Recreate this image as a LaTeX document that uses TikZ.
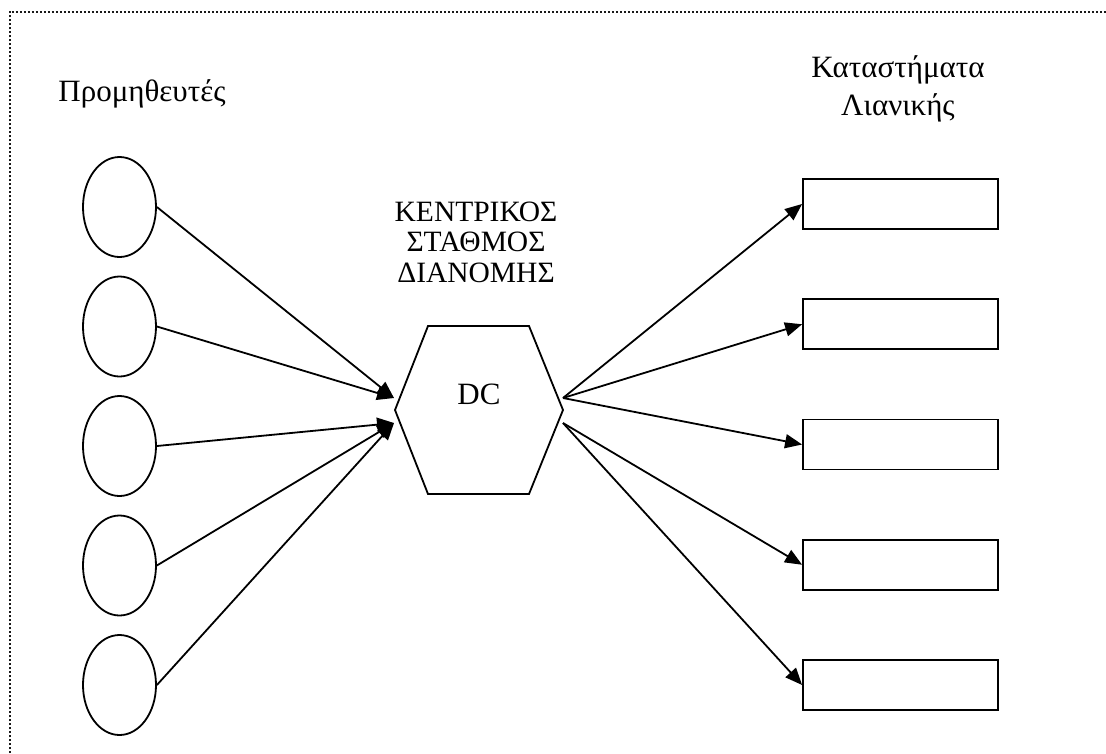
\documentclass[tikz,border=0pt]{standalone}
\usepackage{fontspec}
\setmainfont{Liberation Serif}
\usetikzlibrary{shapes.geometric,arrows.meta}

\tikzset{
  supplier/.style={draw, line width=1.8pt, ellipse, inner sep=0pt,
    minimum width=73pt, minimum height=100pt},
  store/.style={draw, line width=1.8pt, rectangle, inner sep=0pt,
    minimum width=195pt, minimum height=50pt},
  flow/.style={line width=1.8pt, -{Triangle[length=17pt,width=14pt]}},
  hub/.style={line width=1.8pt, line join=miter},
  biglabel/.style={font=\fontsize{31}{37.5}\selectfont, align=center, inner sep=0pt, anchor=base},
  hublabel/.style={font=\fontsize{29.5}{30.5}\selectfont, align=center, inner sep=0pt, anchor=base},
  frame/.style={line width=2pt, black!90, dash pattern=on 2pt off 2pt}
}

\begin{document}
\begin{tikzpicture}[x=1pt, y=-1pt]
  \useasboundingbox (0,0) rectangle (1106,753);

  % dotted frame (top and left edges)
  \draw[frame] (9.5,753) -- (9.5,11.5) -- (1106,11.5);

  % headings (base anchor sits on the last line)
  \node[biglabel] (supT) at (142,101) {Προμηθευτές};
  \node[biglabel] (stoT) at (898,115) {Καταστήματα\\Λιανικής};
  \node[hublabel] (hubT) at (476,282) {ΚΕΝΤΡΙΚΟΣ\\ΣΤΑΘΜΟΣ\\ΔΙΑΝΟΜΗΣ};

  % distribution centre
  \coordinate (h1) at (395,410);
  \coordinate (h2) at (428,326);
  \coordinate (h3) at (529,326);
  \coordinate (h4) at (563,410);
  \coordinate (h5) at (529,494);
  \coordinate (h6) at (428,494);
  \draw[hub] (h1) -- (h2) -- (h3) -- (h4) -- (h5) -- (h6) -- cycle;
  \node[biglabel] (dc) at (479,404) {DC};

  % inlets and outlets of the centre
  \coordinate (inU)  at (394,398);
  \coordinate (inL)  at (394,423);
  \coordinate (outU) at (563,398);
  \coordinate (outL) at (563,423);

  % suppliers
  \foreach \i/\y in {1/207,2/326.5,3/446,4/565.5,5/685}
    \node[supplier] (s\i) at (119.5,\y) {};

  % retail stores
  \foreach \i/\y in {1/204,2/324.25,3/444.5,4/564.75,5/685}
    \node[store] (r\i) at (900.5,\y) {};

  % supplier flows into the centre
  \draw[flow] (s1.east) -- (inU);
  \draw[flow] (s2.east) -- (inU);
  \draw[flow] (s3.east) -- (inL);
  \draw[flow] (s4.east) -- (inL);
  \draw[flow] (s5.east) -- (inL);

  % centre flows out to the stores
  \draw[flow] (outU) -- (r1.west);
  \draw[flow] (outU) -- (r2.west);
  \draw[flow] (outU) -- (r3.west);
  \draw[flow] (outL) -- (r4.west);
  \draw[flow] (outL) -- (r5.west);
\end{tikzpicture}
\end{document}
